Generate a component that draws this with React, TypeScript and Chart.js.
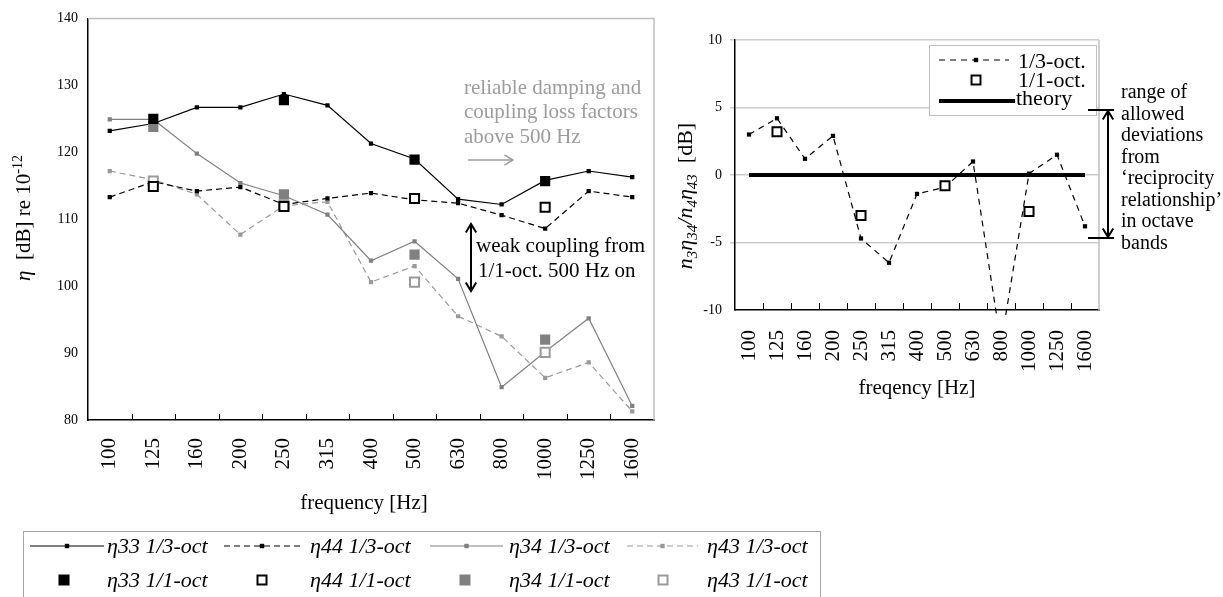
import React, { useEffect, useRef } from "react";
import { Chart, registerables } from "chart.js";

Chart.register(...registerables);

// ---------------- data ----------------
const FREQUENCIES = ["100", "125", "160", "200", "250", "315", "400", "500", "630", "800", "1000", "1250", "1600"];

const ETA33_THIRD = [123.2, 124.3, 126.7, 126.7, 128.7, 127.0, 121.3, 119.0, 113.0, 112.2, 115.8, 117.2, 116.3];
const ETA44_THIRD = [113.3, 115.6, 114.2, 114.8, 112.2, 113.1, 113.9, 112.9, 112.4, 110.6, 108.6, 114.2, 113.3];
const ETA34_THIRD = [124.9, 124.9, 119.8, 115.4, 113.5, 110.7, 103.8, 106.7, 101.1, 84.9, 90.2, 95.2, 82.1];
const ETA43_THIRD = [117.2, 115.9, 113.7, 107.7, 112.0, 112.6, 100.6, 103.0, 95.5, 92.5, 86.3, 88.6, 81.3];

const ETA33_OCT = [null, 125.0, null, null, 127.8, null, null, 118.9, null, null, 115.7, null, null];
const ETA44_OCT = [null, 114.9, null, null, 111.9, null, null, 113.1, null, null, 111.8, null, null];
const ETA34_OCT = [null, 123.8, null, null, 113.7, null, null, 104.7, null, null, 92.0, null, null];
const ETA43_OCT = [null, 115.7, null, null, 112.1, null, null, 100.6, null, null, 90.1, null, null];

const LEFT_Y_TICKS = [80, 90, 100, 110, 120, 130, 140];

const RATIO_THIRD = [3.0, 4.2, 1.2, 2.9, -4.7, -6.5, -1.4, -0.9, 1.0, -12.5, 0.1, 1.5, -3.8];
const RATIO_OCT = [null, 3.2, null, null, -3.0, null, null, -0.8, null, null, -2.7, null, null];
const THEORY = [0, 0, 0, 0, 0, 0, 0, 0, 0, 0, 0, 0, 0];

const RIGHT_Y_TICKS = [-10, -5, 0, 5, 10];

const LEFT_LABELS = ["η33 1/3-oct", "η44 1/3-oct", "η34 1/3-oct", "η43 1/3-oct", "η33 1/1-oct", "η44 1/1-oct", "η34 1/1-oct", "η43 1/1-oct"];
const RIGHT_LABELS = ["1/3-oct.", "1/1-oct.", "theory"];

// ---------------- styling helpers ----------------
const SERIF = "'Liberation Serif', 'Times New Roman', Times, serif";
const fnt = (size: number, italic = false) => `${italic ? "italic " : ""}${size}px ${SERIF}`;
const BLACK = "#000000";
const GRAY = "#808080";
const LIGHT_GRAY = "#999999";
const FRAME_GRAY = "#bfbfbf";
const NOTE_GRAY = "#9c9c9c";

type Seg = { t: string; size: number; italic?: boolean; dy?: number };

function drawRich(ctx: CanvasRenderingContext2D, segs: Seg[], x: number, y: number, angle: number, align: "center" | "left") {
  ctx.save();
  ctx.translate(x, y);
  ctx.rotate(angle);
  let total = 0;
  for (const s of segs) {
    ctx.font = fnt(s.size, s.italic);
    total += ctx.measureText(s.t).width;
  }
  let cx = align === "center" ? -total / 2 : 0;
  ctx.textAlign = "left";
  ctx.textBaseline = "alphabetic";
  for (const s of segs) {
    ctx.font = fnt(s.size, s.italic);
    ctx.fillText(s.t, cx, s.dy || 0);
    cx += ctx.measureText(s.t).width;
  }
  ctx.restore();
}

function arrowHead(ctx: CanvasRenderingContext2D, x: number, y: number, angle: number, len: number) {
  ctx.beginPath();
  ctx.moveTo(x - len * Math.cos(angle - 0.55), y - len * Math.sin(angle - 0.55));
  ctx.lineTo(x, y);
  ctx.lineTo(x - len * Math.cos(angle + 0.55), y - len * Math.sin(angle + 0.55));
  ctx.stroke();
}

function drawMarker(ctx: CanvasRenderingContext2D, x: number, y: number, half: number, fill: string, stroke: string, lw: number) {
  ctx.save();
  ctx.fillStyle = fill;
  ctx.fillRect(x - half, y - half, half * 2, half * 2);
  if (lw > 0) {
    ctx.strokeStyle = stroke;
    ctx.lineWidth = lw;
    ctx.strokeRect(x - half, y - half, half * 2, half * 2);
  }
  ctx.restore();
}

function inwardTicks(chart: any, len: number) {
  const { ctx, chartArea: a, scales } = chart;
  const n = scales.x.getLabels().length;
  const step = (a.right - a.left) / n;
  ctx.save();
  ctx.strokeStyle = BLACK;
  ctx.lineWidth = 1;
  for (let i = 1; i < n; i++) {
    const x = Math.round(a.left + i * step) + 0.5;
    ctx.beginPath();
    ctx.moveTo(x, a.bottom);
    ctx.lineTo(x, a.bottom - len);
    ctx.stroke();
  }
  ctx.restore();
}

// ---------------- left chart plugin ----------------
const leftDecor = {
  id: "leftDecor",
  afterDraw(chart: any) {
    const { ctx, chartArea: a } = chart;
    ctx.save();
    // gray top/right frame
    ctx.strokeStyle = FRAME_GRAY;
    ctx.lineWidth = 1.5;
    ctx.beginPath();
    ctx.moveTo(a.left, a.top);
    ctx.lineTo(a.right, a.top);
    ctx.lineTo(a.right, a.bottom);
    ctx.stroke();
    ctx.restore();

    inwardTicks(chart, 6);

    ctx.save();
    ctx.fillStyle = BLACK;
    // y title
    drawRich(
      ctx,
      [
        { t: "η", size: 21, italic: true },
        { t: "  [dB] re 10", size: 21 },
        { t: "-12", size: 14, dy: -8 },
      ],
      30,
      218,
      -Math.PI / 2,
      "center"
    );
    // x title
    drawRich(ctx, [{ t: "frequency [Hz]", size: 21 }], 364, 509, 0, "center");

    // gray note
    ctx.fillStyle = NOTE_GRAY;
    ctx.font = fnt(21);
    ctx.textAlign = "left";
    ctx.textBaseline = "alphabetic";
    ctx.fillText("reliable damping and", 464, 94);
    ctx.fillText("coupling loss factors", 464, 118);
    ctx.fillText("above 500 Hz", 464, 143);
    ctx.strokeStyle = NOTE_GRAY;
    ctx.lineWidth = 1.5;
    ctx.beginPath();
    ctx.moveTo(468, 160);
    ctx.lineTo(513, 160);
    ctx.stroke();
    arrowHead(ctx, 513, 160, 0, 10);

    // black double arrow + note
    ctx.strokeStyle = BLACK;
    ctx.lineWidth = 2;
    ctx.beginPath();
    ctx.moveTo(471, 224);
    ctx.lineTo(471, 291);
    ctx.stroke();
    arrowHead(ctx, 471, 224, -Math.PI / 2, 10);
    arrowHead(ctx, 471, 291, Math.PI / 2, 10);
    ctx.fillStyle = BLACK;
    ctx.font = fnt(21);
    ctx.fillText("weak coupling from", 476, 252);
    ctx.fillText("1/1-oct. 500 Hz on", 478, 277);

    // legend box
    ctx.strokeStyle = "#a6a6a6";
    ctx.lineWidth = 1;
    ctx.strokeRect(23.5, 531.5, 797, 80);

    const ds = chart.data.datasets;
    const lineCols = [
      { x0: 30, x1: 104, tx: 107 },
      { x0: 224, x1: 300, tx: 310 },
      { x0: 430, x1: 503, tx: 509 },
      { x0: 627, x1: 698, tx: 707 },
    ];
    const sqX = [64, 262, 465, 663];
    const row1 = 546;
    const row2 = 580;
    for (let i = 0; i < 4; i++) {
      const d = ds[i];
      const c = lineCols[i];
      ctx.save();
      ctx.strokeStyle = d.borderColor;
      ctx.lineWidth = d.borderWidth;
      ctx.setLineDash(d.borderDash || []);
      ctx.beginPath();
      ctx.moveTo(c.x0, row1);
      ctx.lineTo(c.x1, row1);
      ctx.stroke();
      ctx.restore();
      drawMarker(ctx, (c.x0 + c.x1) / 2, row1, 2.2, d.pointBackgroundColor, d.pointBackgroundColor, 0);
      ctx.fillStyle = BLACK;
      ctx.font = fnt(22, true);
      ctx.fillText(d.label, c.tx, row1 + 7);

      const s = ds[i + 4];
      const open = s.pointBackgroundColor === "#ffffff";
      drawMarker(ctx, sqX[i], row2, open ? 4.5 : 5.5, s.pointBackgroundColor, s.pointBorderColor, open ? 2 : 0);
      ctx.fillStyle = BLACK;
      ctx.fillText(s.label, c.tx, row2 + 7);
    }
    ctx.restore();
  },
};

// ---------------- right chart plugin ----------------
const OX = 640; // page x of the right canvas

const rightDecor = {
  id: "rightDecor",
  afterDraw(chart: any) {
    const { ctx, chartArea: a } = chart;
    ctx.save();
    ctx.strokeStyle = FRAME_GRAY;
    ctx.lineWidth = 1.5;
    ctx.beginPath();
    ctx.moveTo(a.right, a.top);
    ctx.lineTo(a.right, a.bottom);
    ctx.stroke();
    ctx.restore();

    inwardTicks(chart, 7);

    ctx.save();
    ctx.fillStyle = BLACK;
    // y title
    drawRich(
      ctx,
      [
        { t: "n", size: 22, italic: true },
        { t: "3", size: 15, italic: true, dy: 5 },
        { t: "η", size: 22, italic: true },
        { t: "34", size: 15, italic: true, dy: 5 },
        { t: "/", size: 22, italic: true },
        { t: "n", size: 22, italic: true },
        { t: "4", size: 15, italic: true, dy: 5 },
        { t: "η", size: 22, italic: true },
        { t: "43", size: 15, italic: true, dy: 5 },
        { t: "  [dB]", size: 22 },
      ],
      692 - OX,
      196,
      -Math.PI / 2,
      "center"
    );
    // x title
    drawRich(ctx, [{ t: "freqency [Hz]", size: 21 }], 917 - OX, 394, 0, "center");

    // legend box inside plot
    const lx = 929 - OX;
    ctx.fillStyle = "#ffffff";
    ctx.fillRect(lx, 45, 167, 70);
    ctx.strokeStyle = FRAME_GRAY;
    ctx.lineWidth = 1;
    ctx.strokeRect(lx + 0.5, 45.5, 167, 70);
    const ds = chart.data.datasets;
    const third = ds[1];
    const oct = ds[2];
    const theory = ds[0];
    ctx.save();
    ctx.strokeStyle = third.borderColor;
    ctx.lineWidth = third.borderWidth;
    ctx.setLineDash(third.borderDash);
    ctx.beginPath();
    ctx.moveTo(939 - OX, 60);
    ctx.lineTo(1009 - OX, 60);
    ctx.stroke();
    ctx.restore();
    drawMarker(ctx, 976 - OX, 60, 2.2, BLACK, BLACK, 0);
    drawMarker(ctx, 976 - OX, 80, 4.5, "#ffffff", BLACK, 2);
    ctx.strokeStyle = theory.borderColor;
    ctx.lineWidth = theory.borderWidth;
    ctx.beginPath();
    ctx.moveTo(939 - OX, 101);
    ctx.lineTo(1015 - OX, 101);
    ctx.stroke();
    ctx.fillStyle = BLACK;
    ctx.font = fnt(22);
    ctx.textAlign = "left";
    ctx.textBaseline = "alphabetic";
    ctx.fillText(third.label, 1018 - OX, 68);
    ctx.fillText(oct.label, 1018 - OX, 87);
    ctx.fillText(theory.label, 1016 - OX, 105);

    // bracket with double arrow
    ctx.strokeStyle = BLACK;
    ctx.lineWidth = 2;
    ctx.beginPath();
    ctx.moveTo(1088 - OX, 110);
    ctx.lineTo(1114 - OX, 110);
    ctx.moveTo(1088 - OX, 238);
    ctx.lineTo(1114 - OX, 238);
    ctx.moveTo(1108 - OX, 111);
    ctx.lineTo(1108 - OX, 237);
    ctx.stroke();
    arrowHead(ctx, 1108 - OX, 111, -Math.PI / 2, 10);
    arrowHead(ctx, 1108 - OX, 237, Math.PI / 2, 10);

    const lines = ["range of", "allowed", "deviations", "from", "‘reciprocity", "relationship’", "in octave", "bands"];
    ctx.font = fnt(20);
    lines.forEach((t, i) => ctx.fillText(t, 1121 - OX, 98 + i * 21.5));
    ctx.restore();
  },
};

// ---------------- configs ----------------
function lineDs(label: string, data: number[], color: string, dash: number[]) {
  return {
    label,
    data,
    borderColor: color,
    backgroundColor: color,
    borderWidth: 1.2,
    borderDash: dash,
    pointStyle: "rect",
    pointRadius: 3,
    pointBorderWidth: 0,
    pointBackgroundColor: color,
    pointBorderColor: color,
    order: 1,
  };
}

function squareDs(label: string, data: (number | null)[], fill: string, stroke: string) {
  const open = fill === "#ffffff";
  return {
    label,
    data,
    showLine: false,
    borderColor: stroke,
    backgroundColor: fill,
    pointStyle: "rect",
    pointRadius: open ? 6.4 : 7.2,
    pointBorderWidth: open ? 2 : 0,
    pointBackgroundColor: fill,
    pointBorderColor: stroke,
    order: 0,
  };
}

function leftConfig(): any {
  return {
    type: "line",
    data: {
      labels: FREQUENCIES,
      datasets: [
        lineDs(LEFT_LABELS[0], ETA33_THIRD, BLACK, []),
        lineDs(LEFT_LABELS[1], ETA44_THIRD, BLACK, [6, 4]),
        lineDs(LEFT_LABELS[2], ETA34_THIRD, GRAY, []),
        lineDs(LEFT_LABELS[3], ETA43_THIRD, LIGHT_GRAY, [6, 4]),
        squareDs(LEFT_LABELS[4], ETA33_OCT, BLACK, BLACK),
        squareDs(LEFT_LABELS[5], ETA44_OCT, "#ffffff", BLACK),
        squareDs(LEFT_LABELS[6], ETA34_OCT, GRAY, GRAY),
        squareDs(LEFT_LABELS[7], ETA43_OCT, "#ffffff", LIGHT_GRAY),
      ],
    },
    options: {
      animation: false,
      responsive: true,
      maintainAspectRatio: false,
      devicePixelRatio: 1,
      events: [],
      layout: { padding: { left: 0, top: 16, right: 176, bottom: 0 } },
      plugins: { legend: { display: false }, tooltip: { enabled: false }, title: { display: false } },
      scales: {
        x: {
          type: "category",
          offset: true,
          grid: { display: true, drawOnChartArea: false, drawTicks: false, offset: true },
          border: { display: true, color: BLACK, width: 1.5 },
          ticks: {
            color: BLACK,
            font: { family: SERIF, size: 21 },
            minRotation: 90,
            maxRotation: 90,
            autoSkip: false,
            padding: 18,
          },
          afterFit: (s: any) => {
            s.height = 177;
          },
        },
        y: {
          min: LEFT_Y_TICKS[0],
          max: LEFT_Y_TICKS[LEFT_Y_TICKS.length - 1],
          afterBuildTicks: (s: any) => {
            s.ticks = LEFT_Y_TICKS.map((v) => ({ value: v }));
          },
          grid: { display: true, drawOnChartArea: false, drawTicks: false },
          border: { display: true, color: BLACK, width: 1.5 },
          ticks: { color: BLACK, font: { family: SERIF, size: 14 }, padding: 10 },
          afterFit: (s: any) => {
            s.width = 88;
          },
        },
      },
    },
    plugins: [leftDecor],
  };
}

function rightConfig(): any {
  return {
    type: "line",
    data: {
      labels: FREQUENCIES,
      datasets: [
        {
          label: RIGHT_LABELS[2],
          data: THEORY,
          borderColor: BLACK,
          borderWidth: 4,
          pointRadius: 0,
          order: 2,
        },
        {
          label: RIGHT_LABELS[0],
          data: RATIO_THIRD,
          borderColor: BLACK,
          backgroundColor: BLACK,
          borderWidth: 1.2,
          borderDash: [6, 5],
          pointStyle: "rect",
          pointRadius: 3,
          pointBorderWidth: 0,
          pointBackgroundColor: BLACK,
          clip: { left: 10, top: 10, right: 10, bottom: 7 },
          order: 1,
        },
        {
          label: RIGHT_LABELS[1],
          data: RATIO_OCT,
          showLine: false,
          pointStyle: "rect",
          pointRadius: 6.4,
          pointBorderWidth: 2,
          pointBackgroundColor: "#ffffff",
          pointBorderColor: BLACK,
          borderColor: BLACK,
          order: 0,
        },
      ],
    },
    options: {
      animation: false,
      responsive: true,
      maintainAspectRatio: false,
      devicePixelRatio: 1,
      events: [],
      layout: { padding: { left: 0, top: 40, right: 124, bottom: 0 } },
      plugins: { legend: { display: false }, tooltip: { enabled: false }, title: { display: false } },
      scales: {
        x: {
          type: "category",
          offset: true,
          grid: { display: true, drawOnChartArea: false, drawTicks: false, offset: true },
          border: { display: true, color: BLACK, width: 1.5 },
          ticks: {
            color: BLACK,
            font: { family: SERIF, size: 21 },
            minRotation: 90,
            maxRotation: 90,
            autoSkip: false,
            padding: 20,
          },
          afterFit: (s: any) => {
            s.height = 287;
          },
        },
        y: {
          min: RIGHT_Y_TICKS[0],
          max: RIGHT_Y_TICKS[RIGHT_Y_TICKS.length - 1],
          afterBuildTicks: (s: any) => {
            s.ticks = RIGHT_Y_TICKS.map((v) => ({ value: v }));
          },
          grid: {
            display: true,
            drawOnChartArea: true,
            drawTicks: true,
            tickLength: 5,
            color: (c: any) => (c.tick && c.tick.value === RIGHT_Y_TICKS[0] ? "rgba(0,0,0,0)" : "#cccccc"),
            lineWidth: 1.5,
          },
          border: { display: true, color: BLACK, width: 1.5 },
          ticks: { color: BLACK, font: { family: SERIF, size: 14 }, padding: 8 },
          afterFit: (s: any) => {
            s.width = 735 - OX;
          },
        },
      },
    },
    plugins: [rightDecor],
  };
}

export default function App() {
  const leftRef = useRef<HTMLCanvasElement>(null);
  const rightRef = useRef<HTMLCanvasElement>(null);
  useEffect(() => {
    const c1 = new Chart(leftRef.current as HTMLCanvasElement, leftConfig());
    const c2 = new Chart(rightRef.current as HTMLCanvasElement, rightConfig());
    return () => {
      c1.destroy();
      c2.destroy();
    };
  }, []);
  return (
    <div style={{ position: "absolute", left: 0, top: 0, width: 1223, height: 597, background: "#ffffff", overflow: "hidden" }}>
      <div style={{ position: "absolute", left: 0, top: 0, width: 830, height: 597 }}>
        <canvas ref={leftRef} />
      </div>
      <div style={{ position: "absolute", left: OX, top: 0, width: 1223 - OX, height: 597 }}>
        <canvas ref={rightRef} />
      </div>
    </div>
  );
}
